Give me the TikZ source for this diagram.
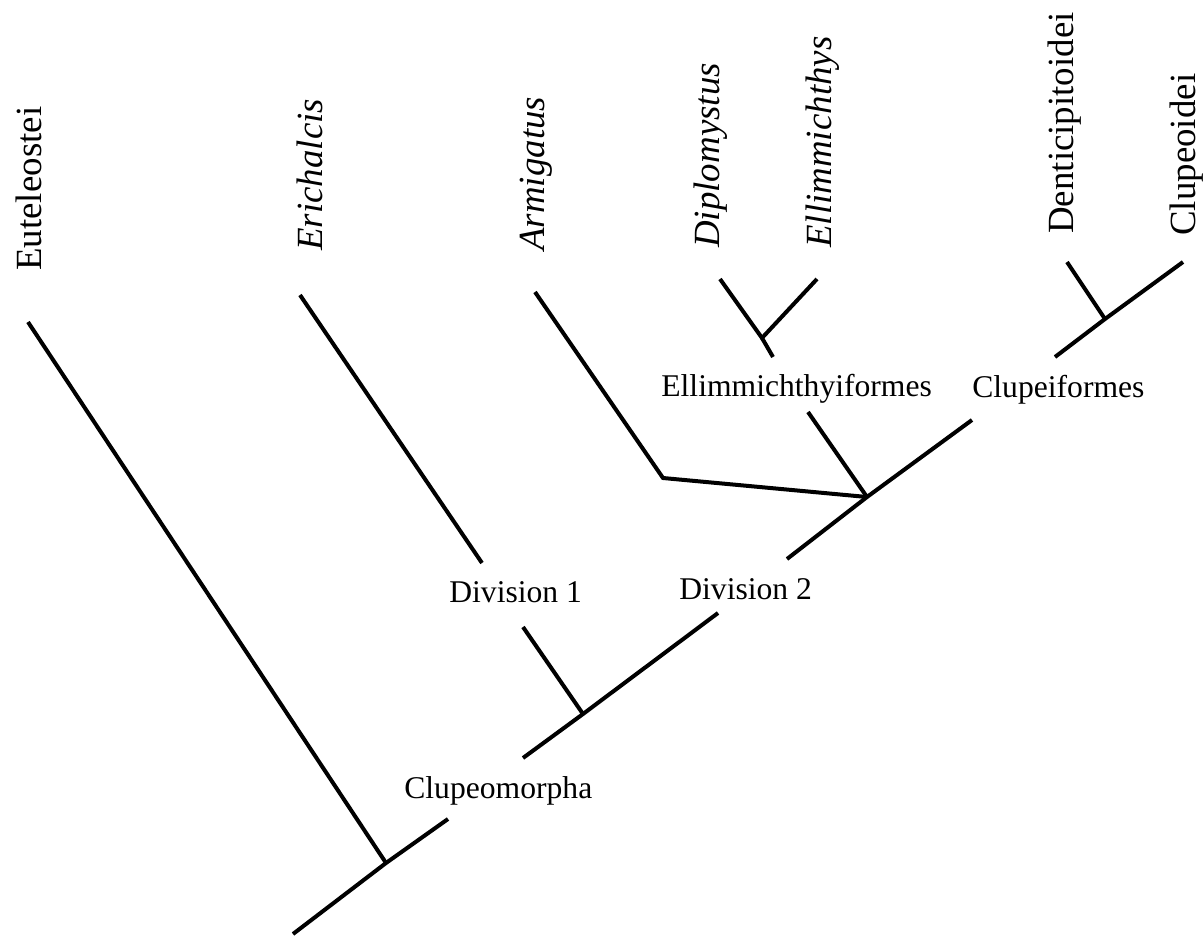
\documentclass[tikz,border=0pt]{standalone}
\usepackage{fontspec}
\setmainfont{Liberation Serif}

\tikzset{
  branch/.style={line width=0.08cm},
  taxon/.style={rotate=90, anchor=base west, inner sep=0pt, font=\fontsize{21}{25}\selectfont},
  clade/.style={anchor=base west, inner sep=0pt, font=\fontsize{18}{22}\selectfont}
}

\begin{document}
\begin{tikzpicture}[x=0.02cm, y=-0.02cm]
        \useasboundingbox (0,0) rectangle (1204,936);

        % Terminal taxa
        \node[taxon] (eut) at (41, 271) {Euteleostei};
        \node[taxon] (eri) at (322, 251) {\textit{Erichalcis}};
        \node[taxon] (arm) at (544, 251) {\textit{Armigatus}};
        \node[taxon] (dip) at (719, 248) {\textit{Diplomystus}};
        \node[taxon] (ell) at (831, 248) {\textit{Ellimmichthys}};
        \node[taxon] (den) at (1073, 234) {Denticipitoidei};
        \node[taxon] (clo) at (1195, 236) {Clupeoidei};

        % Clade names
        \node[clade] (clupeomorpha) at (404, 798) {Clupeomorpha};
        \node[clade] (div1) at (449, 602) {Division 1};
        \node[clade] (div2) at (679, 599) {Division 2};
        \node[clade] (ellf) at (661, 396) {Ellimmichthyiformes};
        \node[clade] (clupf) at (972, 397) {Clupeiformes};

        % Branch tips and junctions
        \coordinate (root) at (293, 934);
        \coordinate (j0) at (386, 863);
        \coordinate (j1) at (583, 714);
        \coordinate (j2) at (867, 497);
        \coordinate (j3) at (762, 338);
        \coordinate (j4) at (1105, 319);
        \coordinate (bend) at (663, 478);
        \coordinate (eut-t) at (28, 322);
        \coordinate (eri-t) at (300, 295);
        \coordinate (arm-t) at (535, 292);
        \coordinate (dip-t) at (720, 279);
        \coordinate (ell-t) at (817, 279);
        \coordinate (den-t) at (1067, 262);
        \coordinate (clo-t) at (1183, 262);

        % Ends of the lines at the clade names
        \coordinate (cm-a) at (448, 819);
        \coordinate (cm-b) at (523, 758);
        \coordinate (d1-a) at (482, 563);
        \coordinate (d1-b) at (523, 627);
        \coordinate (d2-a) at (718, 613);
        \coordinate (d2-b) at (787, 559);
        \coordinate (ef-a) at (773, 357);
        \coordinate (ef-b) at (808, 412);
        \coordinate (cf-a) at (972, 420);
        \coordinate (cf-b) at (1055, 357);

        % Main trunk
        \draw[branch] (root) -- (j0) -- (cm-a);
        \draw[branch] (cm-b) -- (j1) -- (d2-a);
        \draw[branch] (d2-b) -- (j2) -- (cf-a);
        \draw[branch] (cf-b) -- (j4) -- (clo-t);

        % Side branches
        \draw[branch] (eut-t) -- (j0);
        \draw[branch] (eri-t) -- (d1-a);
        \draw[branch] (d1-b) -- (j1);
        \draw[branch] (arm-t) -- (bend) -- (j2);
        \draw[branch] (dip-t) -- (j3) -- (ell-t);
        \draw[branch] (j3) -- (ef-a);
        \draw[branch] (ef-b) -- (j2);
        \draw[branch] (den-t) -- (j4);
\end{tikzpicture}
\end{document}
